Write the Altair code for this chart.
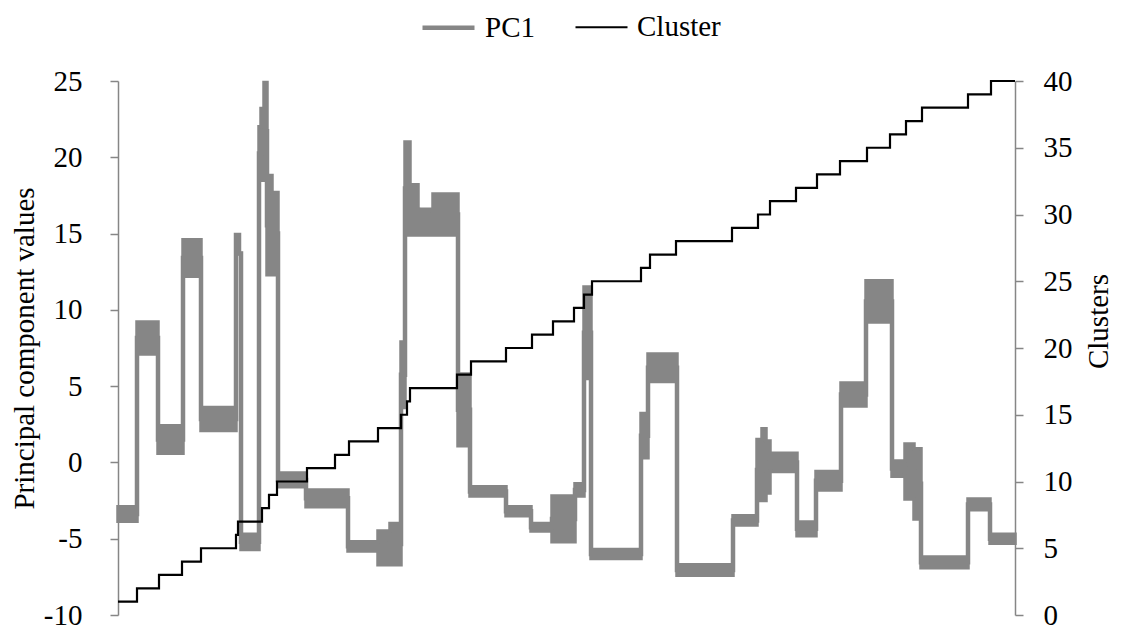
import altair as alt
import pandas as pd

# ---- PC1: piecewise bands (sample index where band starts, lower and upper edge) ----
pc1_start = [0, 19, 40, 65, 83, 118, 121, 123, 141, 143, 146, 149, 154, 160, 188, 230,
             260, 272, 283, 287, 292, 300, 315, 340, 352, 388, 413, 434, 457, 466, 473,
             523, 530, 559, 615, 639, 644, 648, 652, 679, 698, 723, 748, 774, 787, 796,
             803, 850, 872]
pc1_low = [-3.85, 7.1, 0.6, 12.2, 2.1, 14.9, 13.7, -5.7, 18.5, 18.5, 18.5, 12.3, 12.3,
           -1.6, -2.9, -5.8, -6.7, -6.7, 3.6, 14.9, 14.9, 14.9, 14.9, 1.1, -2.2, -3.5,
           -4.5, -5.2, -2.2, 5.5, -6.3, 0.3, 5.3, -7.4, -4.1, -2.5, -2.5, -2.0, -0.6,
           -4.8, -1.8, 3.7, 9.2, -0.9, -2.4, -3.7, -6.9, -3.1, -5.3]
pc1_high = [-2.9, 9.2, 2.4, 14.6, 3.6, 14.9, 13.7, -4.7, 22.0, 23.2, 24.9, 18.8, 17.7,
            -0.7, -1.8, -5.2, -4.5, -4.0, 7.9, 21.0, 18.2, 16.6, 17.6, 5.8, -1.6, -2.9,
            -4.0, -2.2, -1.4, 11.5, -5.7, 3.2, 7.1, -6.7, -3.5, 1.5, 2.2, 1.4, 0.6,
            -3.9, -0.6, 5.2, 11.9, 0.1, 1.2, 0.9, -6.2, -2.4, -4.7]
series_end = 897

# ---- Cluster: sample index where each cluster starts ----
cluster_start = [0, 19, 41, 64, 83, 118, 120, 144, 151, 159, 189, 217, 231, 260, 283,
                 289, 292, 339, 353, 388, 414, 435, 456, 466, 474, 523, 532, 558, 614,
                 640, 652, 678, 699, 722, 749, 772, 788, 804, 850, 873]
cluster_id = list(range(1, 41))

left_ticks = [-10, -5, 0, 5, 10, 15, 20, 25]
right_ticks = [0, 5, 10, 15, 20, 25, 30, 35, 40]
series_names = ["PC1", "Cluster"]

band = pd.DataFrame({
    "x": pc1_start + [series_end],
    "lo": pc1_low + [pc1_low[-1]],
    "hi": pc1_high + [pc1_high[-1]],
})
band["mid"] = (band["lo"] + band["hi"]) / 2
band["series"] = "PC1"

clus = pd.DataFrame({
    "x": cluster_start + [series_end],
    "c": cluster_id + [cluster_id[-1]],
})
clus["series"] = "Cluster"

FONT = "Liberation Serif"
GRAY = "#868686"
FS = 29

xenc = alt.X("x:Q", scale=alt.Scale(domain=[0, series_end], nice=False, zero=False), axis=None)
yscale_left = alt.Scale(domain=[-10, 25], nice=False, zero=False)
left_axis = alt.Axis(values=left_ticks, title="Principal component values", orient="left",
                     labelExpr="'' + datum.value", labelPadding=28, titlePadding=4)
right_axis = alt.Axis(values=right_ticks, title="Clusters", orient="right",
                      labelExpr="'' + datum.value", labelPadding=20, titlePadding=12,
                      titleAngle=270, titleBaseline="top", titleY=240)

leg = alt.Legend(title=None, orient="none", legendX=302, legendY=-82, direction="horizontal",
                 symbolType="stroke", symbolSize=2704, labelFont=FONT, labelFontSize=FS,
                 labelColor="#000000", columnPadding=36, labelOffset=8, padding=0)
color = alt.Color("series:N", scale=alt.Scale(domain=series_names, range=[GRAY, "#000000"]),
                  legend=leg)
width_enc = alt.StrokeWidth("series:N", scale=alt.Scale(domain=series_names, range=[4.5, 2.2]),
                            legend=leg)

area = alt.Chart(band).mark_area(interpolate="step-after", color=GRAY, stroke=GRAY,
                                 strokeWidth=3.5, opacity=1).encode(
    x=xenc,
    y=alt.Y("lo:Q", scale=yscale_left, axis=left_axis),
    y2="hi:Q",
)
pc1_line = alt.Chart(band).mark_line(interpolate="step-after").encode(
    x=xenc,
    y=alt.Y("mid:Q", scale=yscale_left, axis=left_axis),
    color=color,
    strokeWidth=width_enc,
)
cluster_line = alt.Chart(clus).mark_line(interpolate="step-after").encode(
    x=xenc,
    y=alt.Y("c:Q", scale=alt.Scale(domain=[0, 40], nice=False, zero=False), axis=right_axis),
    color=color,
    strokeWidth=width_enc,
)

chart = alt.layer(alt.layer(area, pc1_line), cluster_line).resolve_scale(
    y="independent"
).properties(
    width=897, height=534,
    padding={"left": 110, "top": 73, "right": 98, "bottom": 17},
    autosize=alt.AutoSizeParams(type="none"),
).configure_view(stroke=None).configure_axis(
    grid=False, domainColor=GRAY, tickColor=GRAY, domainWidth=1.5, tickWidth=1.5,
    tickSize=8, labelFont=FONT, labelFontSize=FS, labelColor="#000000",
    titleFont=FONT, titleFontSize=FS, titleFontWeight="normal", titleColor="#000000",
)

chart.save("out.html", embed_options={"renderer": "svg", "actions": False})
